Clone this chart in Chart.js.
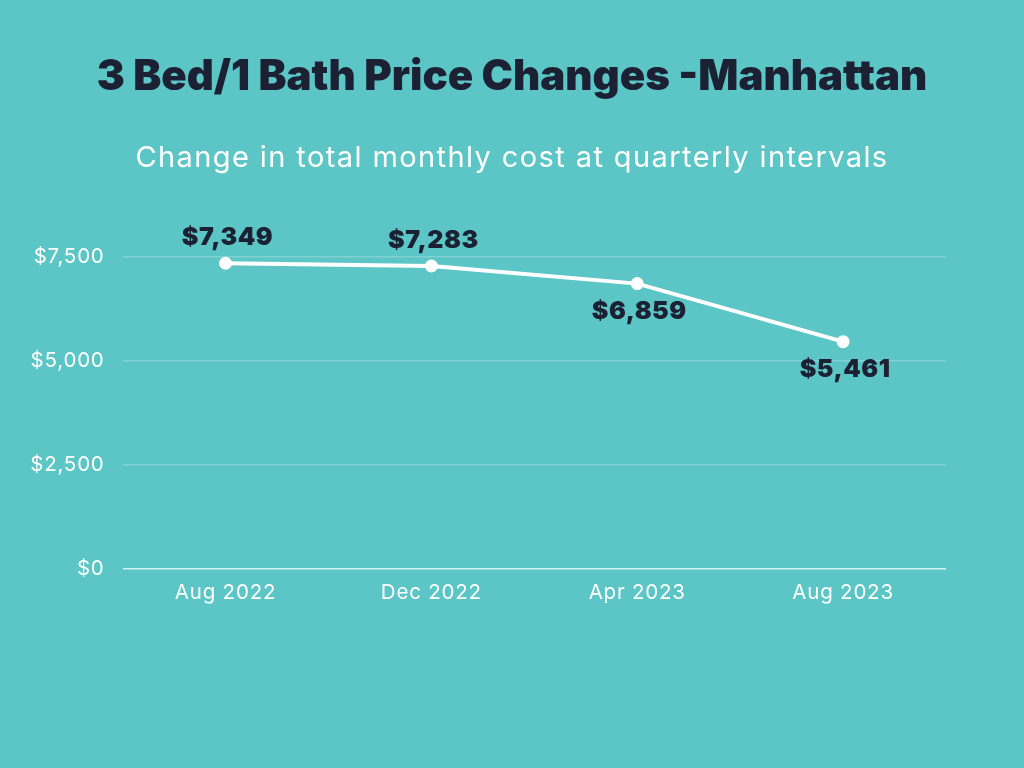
<html>
  <head>
    <script type="text/javascript" src="https://cdn.jsdelivr.net/npm/chart.js@4/dist/chart.umd.min.js"></script>
    <style>
      html, body { margin: 0; padding: 0; background: #5cc5c6; }
      #wrap { width: 1024px; height: 768px; }
    </style>
  </head>
  <body>
    <div id="wrap"><canvas id="prices"></canvas></div>
    <script type="text/javascript">

var title = "3 Bed/1 Bath Price Changes -Manhattan"
var subtitle = "Change in total monthly cost at quarterly intervals"
var months = ["Aug 2022", "Dec 2022", "Apr 2023", "Aug 2023"]
var monthly_cost = [7349, 7283, 6859, 5461]
var label_side = ["above", "above", "below", "below"]
var y_ticks = [0, 2500, 5000, 7500]

var FONT = "Inter, 'Open Sans', sans-serif"

function money(v) {
  return "$" + v.toLocaleString("en-US")
}

// title + subtitle centred on the whole page, and value labels by each point
var decorations = {
  id: "decorations",
  beforeDraw: function (chart) {
    var ctx = chart.ctx
    ctx.save()
    ctx.textAlign = "center"
    ctx.textBaseline = "alphabetic"
    ctx.fillStyle = "#1b2033"
    ctx.font = "900 42px " + FONT
    ctx.letterSpacing = "0px"
    ctx.fillText(title, chart.width / 2, 90)
    ctx.fillStyle = "#ffffff"
    ctx.font = "400 29px " + FONT
    ctx.letterSpacing = "1.4px"
    ctx.fillText(subtitle, chart.width / 2, 167)
    ctx.restore()
    // a little tracking for the axis labels as well
    ctx.letterSpacing = "0.8px"
  },
  afterDatasetsDraw: function (chart) {
    var ctx = chart.ctx
    var meta = chart.getDatasetMeta(0)
    ctx.save()
    ctx.font = "900 25px " + FONT
    ctx.letterSpacing = "0.5px"
    ctx.fillStyle = "#1b2033"
    ctx.textAlign = "center"
    ctx.textBaseline = "middle"
    meta.data.forEach(function (pt, i) {
      var dy = label_side[i] == "above" ? -26 : 28
      ctx.fillText(money(monthly_cost[i]), pt.x + 2, pt.y + dy)
    })
    ctx.restore()
  }
}

var ctx = document.getElementById("prices").getContext("2d")

var config = {
  type: "line",
  data: {
    labels: months,
    datasets: [{
      label: "Total monthly cost",
      data: monthly_cost,
      borderColor: "#ffffff",
      backgroundColor: "#ffffff",
      borderWidth: 4,
      pointRadius: 4.5,
      pointHoverRadius: 4.5,
      tension: 0,
      clip: false
    }]
  },
  options: {
    responsive: true,
    maintainAspectRatio: false,
    animation: false,
    layout: { padding: { left: 17, right: 78, top: 257, bottom: 159 } },
    plugins: {
      legend: { display: false },
      tooltip: { enabled: false },
      title: { display: false }
    },
    scales: {
      x: {
        offset: true,
        grid: { display: false },
        border: { display: false },
        ticks: {
          color: "#ffffff",
          font: { family: FONT, size: 20.5 },
          padding: 4
        }
      },
      y: {
        min: 0,
        max: 7500,
        afterBuildTicks: function (axis) {
          axis.ticks = y_ticks.map(function (v) { return { value: v } })
        },
        grid: {
          color: function (c) {
            return c.tick.value == 0 ? "rgba(255,255,255,0.75)" : "rgba(255,255,255,0.22)"
          },
          lineWidth: 1.5,
          drawTicks: false
        },
        border: { display: false },
        ticks: {
          color: "#ffffff",
          font: { family: FONT, size: 20.5 },
          padding: 18,
          callback: function (v) { return money(v) }
        }
      }
    }
  },
  plugins: [decorations]
}

var chart = new Chart(ctx, config)

    </script>
  </body>
</html>
